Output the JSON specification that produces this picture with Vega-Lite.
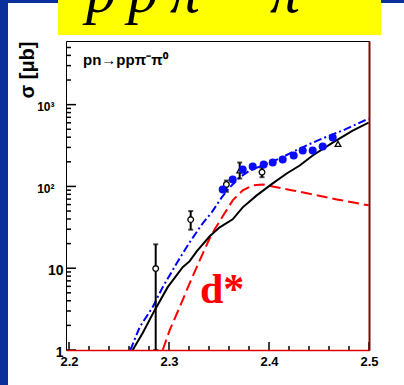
{
  "$schema": "https://vega.github.io/schema/vega-lite/v6.json",
  "autosize": "none",
  "width": 303,
  "height": 309,
  "padding": {"left": 66, "top": 41, "right": 35, "bottom": 35},
  "background": "white",
  "config": {"view": {"stroke": "black", "strokeWidth": 1}, "font": "Liberation Sans"},
  "datasets": {
    "deco": [{"x": 2.05, "x2": 2.139, "y": 1000000, "y2": 0.1}, {"x": 2.05, "x2": 2.6, "y": 1000000, "y2": 17460}],
    "header": [{"x": 2.189, "x2": 2.512, "y": 1000000, "y2": 7095}],
    "ymajor": [{"v": 1}, {"v": 10}, {"v": 100}, {"v": 1000}],
    "yminor": [{"v": 2}, {"v": 3}, {"v": 4}, {"v": 5}, {"v": 6}, {"v": 7}, {"v": 8}, {"v": 9},
      {"v": 20}, {"v": 30}, {"v": 40}, {"v": 50}, {"v": 60}, {"v": 70}, {"v": 80}, {"v": 90},
      {"v": 200}, {"v": 300}, {"v": 400}, {"v": 500}, {"v": 600}, {"v": 700}, {"v": 800}, {"v": 900},
      {"v": 2000}, {"v": 3000}, {"v": 4000}, {"v": 5000}],
    "xmajor": [{"v": 2.2}, {"v": 2.3}, {"v": 2.4}, {"v": 2.5}],
    "xminor": [{"v": 2.22}, {"v": 2.24}, {"v": 2.26}, {"v": 2.28}, {"v": 2.32}, {"v": 2.34}, {"v": 2.36}, {"v": 2.38},
      {"v": 2.42}, {"v": 2.44}, {"v": 2.46}, {"v": 2.48}],
    "blue": [
      {"x": 2.2614, "y": 1}, {"x": 2.2707, "y": 1.91}, {"x": 2.2837, "y": 3.35}, {"x": 2.2937, "y": 5.87},
      {"x": 2.3077, "y": 11.5}, {"x": 2.3207, "y": 20.8}, {"x": 2.3337, "y": 35.4}, {"x": 2.3427, "y": 48.2},
      {"x": 2.3527, "y": 73.4}, {"x": 2.3607, "y": 97.2}, {"x": 2.3707, "y": 128.8}, {"x": 2.3807, "y": 156.7},
      {"x": 2.3937, "y": 180.4}, {"x": 2.4107, "y": 219.5}, {"x": 2.4307, "y": 290.6}, {"x": 2.4507, "y": 374.3},
      {"x": 2.4757, "y": 495.6}, {"x": 2.4997, "y": 675}
    ],
    "black": [
      {"x": 2.2637, "y": 1}, {"x": 2.2737, "y": 1.61}, {"x": 2.2857, "y": 3.07}, {"x": 2.2987, "y": 5.87},
      {"x": 2.3137, "y": 10.3}, {"x": 2.3207, "y": 12.2}, {"x": 2.3277, "y": 16.1}, {"x": 2.3407, "y": 24.6},
      {"x": 2.3507, "y": 31.6}, {"x": 2.3637, "y": 39.6}, {"x": 2.3737, "y": 55.5}, {"x": 2.3877, "y": 77.7},
      {"x": 2.4037, "y": 108.8}, {"x": 2.4177, "y": 144}, {"x": 2.4307, "y": 180}, {"x": 2.4437, "y": 239},
      {"x": 2.4637, "y": 344}, {"x": 2.4837, "y": 482}, {"x": 2.4997, "y": 603}
    ],
    "red": [
      {"x": 2.2937, "y": 1}, {"x": 2.3007, "y": 1.75}, {"x": 2.3107, "y": 3.35}, {"x": 2.3207, "y": 6.56},
      {"x": 2.3307, "y": 12.5}, {"x": 2.3407, "y": 23.2}, {"x": 2.3457, "y": 29.9}, {"x": 2.3537, "y": 43.1},
      {"x": 2.3637, "y": 67.5}, {"x": 2.3737, "y": 89.4}, {"x": 2.3837, "y": 102.8}, {"x": 2.3937, "y": 105.8},
      {"x": 2.4037, "y": 100}, {"x": 2.4237, "y": 89.4}, {"x": 2.4437, "y": 79.9}, {"x": 2.4677, "y": 69.4},
      {"x": 2.4997, "y": 58.7}
    ],
    "dots": [
      {"x": 2.3537, "y": 91.9}, {"x": 2.3637, "y": 121.7}, {"x": 2.3737, "y": 161.2}, {"x": 2.3837, "y": 175.4},
      {"x": 2.3947, "y": 185.5}, {"x": 2.4037, "y": 196.2}, {"x": 2.4137, "y": 213.5}, {"x": 2.4247, "y": 239},
      {"x": 2.4337, "y": 274.8}, {"x": 2.4437, "y": 274.8}, {"x": 2.4537, "y": 307.4}, {"x": 2.4637, "y": 396}
    ],
    "err": [
      {"x": 2.2867, "lo": 1, "hi": 19.6},
      {"x": 2.3217, "lo": 29.6, "hi": 50},
      {"x": 2.3574, "lo": 86, "hi": 118},
      {"x": 2.3707, "lo": 125, "hi": 196},
      {"x": 2.393, "lo": 129.7, "hi": 169}
    ],
    "open": [
      {"x": 2.2867, "y": 9.9, "exp": "A"},
      {"x": 2.3217, "y": 39.3, "exp": "A"},
      {"x": 2.3574, "y": 105.8, "exp": "A"},
      {"x": 2.393, "y": 149.4, "exp": "A"},
      {"x": 2.3707, "y": 156.7, "exp": "B"},
      {"x": 2.469, "y": 331.6, "exp": "B"}
    ],
    "glyphs": [
      {"g": "p", "x": 2.217, "y": 13550}, {"g": "p", "x": 2.259, "y": 13550}, {"g": "π", "x": 2.301, "y": 13550},
      {"g": "⁻", "x": 2.34, "y": 13550}, {"g": "π", "x": 2.401, "y": 13550}, {"g": "⁰", "x": 2.44, "y": 13550}
    ],
    "labels": [{"t": "pn→ppπ⁻π⁰", "x": 2.214, "y": 3048}],
    "dstar": [{"t": "d*", "x": 2.331, "y": 3.755}]
  },
  "layer": [
    {
      "data": {"name": "deco"},
      "mark": {"type": "rect", "color": "#0a309c", "clip": false},
      "encoding": {
        "x": {"field": "x", "type": "quantitative", "scale": {"domain": [2.197, 2.5], "nice": false, "zero": false}, "axis": null},
        "x2": {"field": "x2"},
        "y": {"field": "y", "type": "quantitative", "scale": {"type": "log", "domain": [1, 6000], "nice": false}, "axis": null},
        "y2": {"field": "y2"}
      }
    },
    {
      "data": {"name": "header"},
      "mark": {"type": "rect", "color": "#ffff00", "clip": false},
      "encoding": {
        "x": {"field": "x", "type": "quantitative", "axis": null},
        "x2": {"field": "x2"},
        "y": {"field": "y", "type": "quantitative", "axis": null},
        "y2": {"field": "y2"}
      }
    },
    {
      "data": {"name": "red"},
      "mark": {"type": "line", "color": "#ff0000", "strokeWidth": 2, "strokeDash": [11, 5], "clip": true},
      "encoding": {
        "x": {"field": "x", "type": "quantitative", "axis": null},
        "y": {"field": "y", "type": "quantitative", "axis": null}
      }
    },
    {
      "data": {"name": "black"},
      "mark": {"type": "line", "color": "black", "strokeWidth": 2, "clip": true},
      "encoding": {
        "x": {"field": "x", "type": "quantitative",
          "axis": {"orient": "bottom", "values": [2.2, 2.3, 2.4, 2.5], "format": ".1f", "ticks": false,
            "domain": true, "domainColor": "#e00000", "domainWidth": 1.5,
            "labelFont": "Liberation Sans", "labelFontWeight": "bold", "labelFontSize": 13, "labelColor": "black",
            "labelPadding": 5, "labelFlush": false, "labelOverlap": false, "grid": false, "title": null, "zindex": 1}},
        "y": {"field": "y", "type": "quantitative",
          "axis": {"orient": "left", "values": [1, 10, 100, 1000],
            "labelExpr": "datum.value >= 1000 ? '10³' : datum.value >= 100 ? '10²' : datum.value >= 10 ? '10' : '1'",
            "ticks": false, "domain": false, "grid": false,
            "labelFont": "Liberation Sans", "labelFontWeight": "bold", "labelColor": "black",
            "labelFontSize": {"condition": {"test": "datum.value >= 100", "value": 12}, "value": 14},
            "labelPadding": {"condition": {"test": "datum.value >= 100", "value": 12}, "value": 3},
            "labelOffset": 2, "labelFlush": false, "labelOverlap": false,
            "title": "σ [μb]", "titleFont": "Liberation Sans", "titleFontSize": 20, "titleFontWeight": "bold", "titleColor": "black",
            "titleX": -39, "titleY": 0, "titleAlign": "right", "titleAngle": -90, "titleBaseline": "middle", "zindex": 1}}
      }
    },
    {
      "data": {"name": "blue"},
      "mark": {"type": "line", "color": "#0000ff", "strokeWidth": 2, "strokeDash": [8, 3, 2, 3], "clip": true},
      "encoding": {
        "x": {"field": "x", "type": "quantitative", "axis": null},
        "y": {"field": "y", "type": "quantitative",
          "axis": {"orient": "right", "ticks": false, "labels": false, "domain": true, "domainColor": "#7a0a0a", "domainWidth": 2, "grid": false, "title": null, "zindex": 1}}
      }
    },
    {
      "data": {"name": "err"},
      "mark": {"type": "rule", "color": "black", "strokeWidth": 2, "clip": true},
      "encoding": {
        "x": {"field": "x", "type": "quantitative", "axis": null},
        "y": {"field": "lo", "type": "quantitative", "axis": null},
        "y2": {"field": "hi"}
      }
    },
    {
      "data": {"name": "err"},
      "mark": {"type": "tick", "orient": "horizontal", "color": "black", "size": 5, "thickness": 2, "clip": true},
      "encoding": {
        "x": {"field": "x", "type": "quantitative", "axis": null},
        "y": {"field": "hi", "type": "quantitative", "axis": null}
      }
    },
    {
      "data": {"name": "err"},
      "mark": {"type": "tick", "orient": "horizontal", "color": "black", "size": 5, "thickness": 2, "clip": true},
      "encoding": {
        "x": {"field": "x", "type": "quantitative", "axis": null},
        "y": {"field": "lo", "type": "quantitative", "axis": null}
      }
    },
    {
      "data": {"name": "open"},
      "mark": {"type": "point", "filled": true, "fill": "white", "stroke": "black", "strokeWidth": 1.3, "size": 32, "opacity": 1},
      "encoding": {
        "x": {"field": "x", "type": "quantitative", "axis": null},
        "y": {"field": "y", "type": "quantitative", "axis": null},
        "shape": {"field": "exp", "type": "nominal", "scale": {"domain": ["A", "B"], "range": ["circle", "triangle-up"]}, "legend": null}
      }
    },
    {
      "data": {"name": "dots"},
      "mark": {"type": "circle", "color": "#0a0aff", "size": 64, "opacity": 1},
      "encoding": {
        "x": {"field": "x", "type": "quantitative", "axis": null},
        "y": {"field": "y", "type": "quantitative", "axis": null}
      }
    },
    {
      "data": {"name": "ymajor"},
      "mark": {"type": "tick", "orient": "horizontal", "color": "#000000", "size": 20, "thickness": 1.5, "clip": true, "opacity": 1},
      "encoding": {
        "x": {"datum": 2.197, "type": "quantitative", "axis": null},
        "y": {"field": "v", "type": "quantitative", "axis": null}
      }
    },
    {
      "data": {"name": "yminor"},
      "mark": {"type": "tick", "orient": "horizontal", "color": "#000000", "size": 10, "thickness": 1.5, "clip": true, "opacity": 1},
      "encoding": {
        "x": {"datum": 2.197, "type": "quantitative", "axis": null},
        "y": {"field": "v", "type": "quantitative", "axis": null}
      }
    },
    {
      "data": {"name": "xmajor"},
      "mark": {"type": "tick", "orient": "vertical", "color": "#000000", "size": 16, "thickness": 1.5, "clip": true, "opacity": 1},
      "encoding": {
        "x": {"field": "v", "type": "quantitative", "axis": null},
        "y": {"datum": 1, "type": "quantitative", "axis": null}
      }
    },
    {
      "data": {"name": "xminor"},
      "mark": {"type": "tick", "orient": "vertical", "color": "#000000", "size": 8, "thickness": 1.5, "clip": true, "opacity": 1},
      "encoding": {
        "x": {"field": "v", "type": "quantitative", "axis": null},
        "y": {"datum": 1, "type": "quantitative", "axis": null}
      }
    },
    {
      "data": {"name": "labels"},
      "mark": {"type": "text", "align": "left", "baseline": "alphabetic", "font": "Liberation Sans", "fontWeight": "bold", "fontSize": 15, "color": "black"},
      "encoding": {
        "x": {"field": "x", "type": "quantitative", "axis": null},
        "y": {"field": "y", "type": "quantitative", "axis": null},
        "text": {"field": "t"}
      }
    },
    {
      "data": {"name": "dstar"},
      "mark": {"type": "text", "align": "left", "baseline": "alphabetic", "font": "Liberation Serif", "fontWeight": "bold", "fontSize": 42, "color": "#ff0000"},
      "encoding": {
        "x": {"field": "x", "type": "quantitative", "axis": null},
        "y": {"field": "y", "type": "quantitative", "axis": null},
        "text": {"field": "t"}
      }
    },
    {
      "data": {"name": "glyphs"},
      "mark": {"type": "text", "align": "left", "baseline": "alphabetic", "font": "Liberation Serif", "fontStyle": "italic", "fontSize": 60, "color": "black", "clip": false},
      "encoding": {
        "x": {"field": "x", "type": "quantitative", "axis": null},
        "y": {"field": "y", "type": "quantitative", "axis": null},
        "text": {"field": "g"}
      }
    }
  ],
  "resolve": {"axis": {"x": "independent", "y": "independent"}}
}
